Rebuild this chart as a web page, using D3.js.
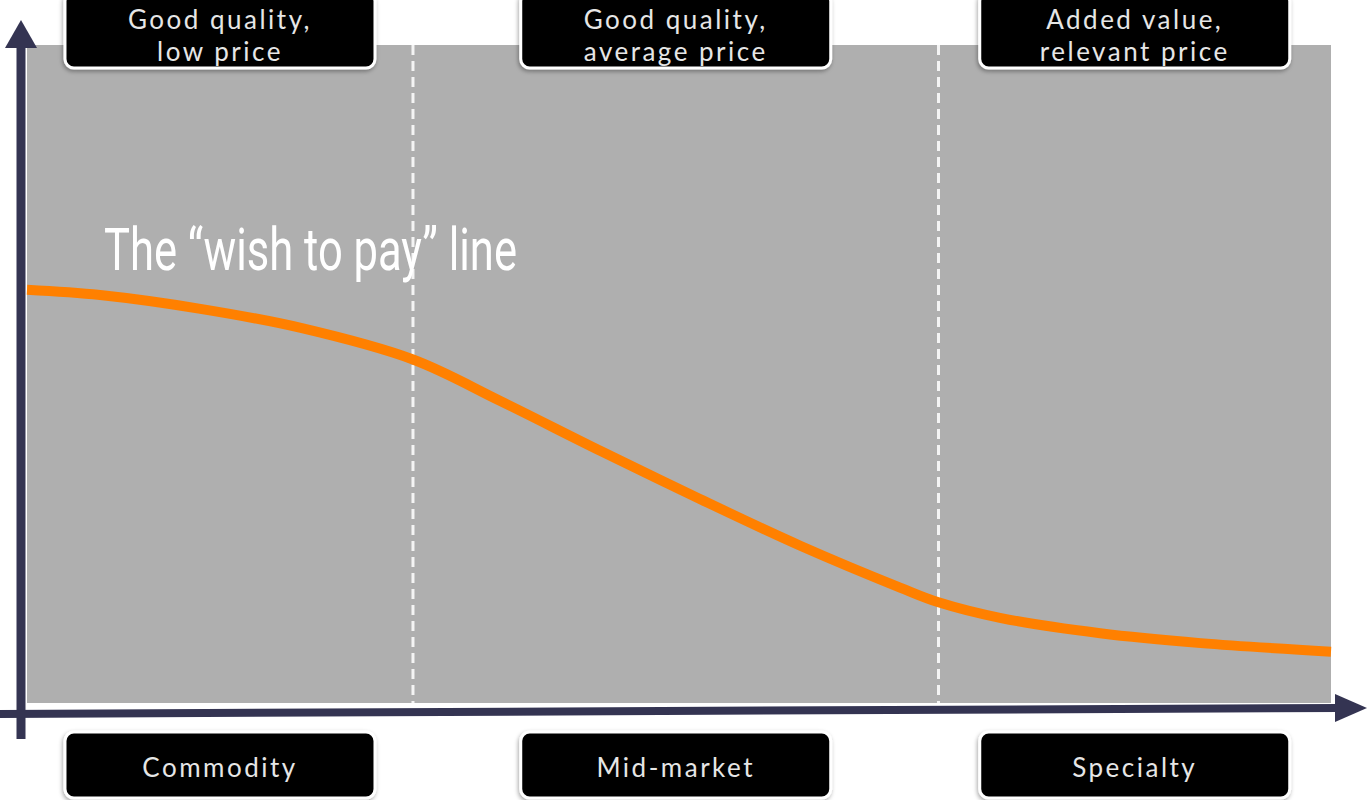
<!DOCTYPE html>
<html>
<head>
<meta charset="utf-8">
<script src="https://cdn.jsdelivr.net/npm/d3@7/dist/d3.min.js"></script>
<style>
  html, body { margin: 0; padding: 0; background: #ffffff; }
  svg { display: block; }
</style>
</head>
<body>
<svg id="chart" width="1367" height="800"></svg>
<script>
// Market position along the horizontal axis (0 = commodity end, 100 = specialty end)
const position   = [0, 5.6, 13.3, 21.0, 29.6, 36.3, 44.0, 51.6, 59.3, 67.0, 69.9, 74.7, 82.3, 90.0, 100];
// Willingness to pay at each position (0 = axis baseline, 100 = top of the panel)
const wishToPay  = [62.8, 62.0, 59.9, 57.0, 52.2, 45.9, 38.3, 31.0, 23.9, 17.5, 15.3, 12.9, 10.6, 9.1, 7.8];

// Segment boundaries (dashed dividers) and segment labels
const dividers      = [29.6, 69.9];
const segmentCenter = [14.8, 49.75, 84.95];
const segments      = ["Commodity", "Mid-market", "Specialty"];
const offers        = [["Good quality,", "low price"], ["Good quality,", "average price"], ["Added value,", "relevant price"]];
const lineLabel     = "The \u201cwish to pay\u201d line";

const svg = d3.select("#chart");

const x = d3.scaleLinear().domain([0, 100]).range([27, 1331]);
const y = d3.scaleLinear().domain([0, 100]).range([703, 45]);

const axisColor = "#343452";

// drop shadow for the label boxes
const defs = svg.append("defs");
const f = defs.append("filter").attr("id", "shadow")
  .attr("x", "-10%").attr("y", "-20%").attr("width", "120%").attr("height", "150%");
f.append("feDropShadow").attr("dx", -1).attr("dy", 2).attr("stdDeviation", 2.2)
  .attr("flood-color", "#000").attr("flood-opacity", 0.35);

// panel background
svg.append("rect")
  .attr("x", x(0)).attr("y", y(100))
  .attr("width", x(100) - x(0)).attr("height", y(0) - y(100))
  .attr("fill", "#afafaf");

// dashed segment dividers
svg.selectAll("line.divider").data(dividers).join("line")
  .attr("class", "divider")
  .attr("x1", d => x(d)).attr("x2", d => x(d))
  .attr("y1", y(100)).attr("y2", y(0))
  .attr("stroke", "#f4f4f4").attr("stroke-width", 3)
  .attr("stroke-dasharray", "10,6");

// the curve
const line = d3.line()
  .x((d, i) => x(position[i]))
  .y(d => y(d))
  .curve(d3.curveCatmullRom.alpha(0.5));

svg.append("path")
  .datum(wishToPay)
  .attr("d", line)
  .attr("fill", "none")
  .attr("stroke", "#ff8000")
  .attr("stroke-width", 10);

// curve label
svg.append("text")
  .attr("x", 104).attr("y", 270)
  .attr("font-family", "Roboto, 'Open Sans', sans-serif")
  .attr("font-size", 60)
  .attr("fill", "#ffffff")
  .attr("textLength", 413)
  .attr("lengthAdjust", "spacingAndGlyphs")
  .text(lineLabel);

// axes
svg.append("line")
  .attr("x1", 21).attr("x2", 21).attr("y1", 44).attr("y2", 739)
  .attr("stroke", axisColor).attr("stroke-width", 9);
svg.append("path")
  .attr("d", "M21,20 L37,48 L5,48 Z")
  .attr("fill", axisColor);

svg.append("line")
  .attr("x1", 0).attr("y1", 714).attr("x2", 1340).attr("y2", 708)
  .attr("stroke", axisColor).attr("stroke-width", 8);
svg.append("path")
  .attr("d", "M1367,708 L1335,694 L1335,722 Z")
  .attr("fill", axisColor);

// label boxes
const boxW = 310;
function drawBox(cx, top, bottom, lines, baselines) {
  const g = svg.append("g");
  g.append("rect")
    .attr("x", x(cx) - boxW / 2).attr("y", top)
    .attr("width", boxW).attr("height", bottom - top)
    .attr("rx", 9).attr("ry", 9)
    .attr("fill", "#000")
    .attr("stroke", "#ffffff").attr("stroke-width", 3)
    .attr("filter", "url(#shadow)");
  lines.forEach((t, i) => {
    g.append("text")
      .attr("x", x(cx)).attr("y", baselines[i])
      .attr("text-anchor", "middle")
      .attr("font-family", "Lato, 'Open Sans', sans-serif")
      .attr("font-size", 26)
      .attr("letter-spacing", 2.5)
      .attr("fill", "#e6e6e6")
      .text(t);
  });
}

segmentCenter.forEach((c, i) => {
  drawBox(c, -8, 68, offers[i], [29, 61]);
  drawBox(c, 732, 798, [segments[i]], [777]);
});
</script>
</body>
</html>
